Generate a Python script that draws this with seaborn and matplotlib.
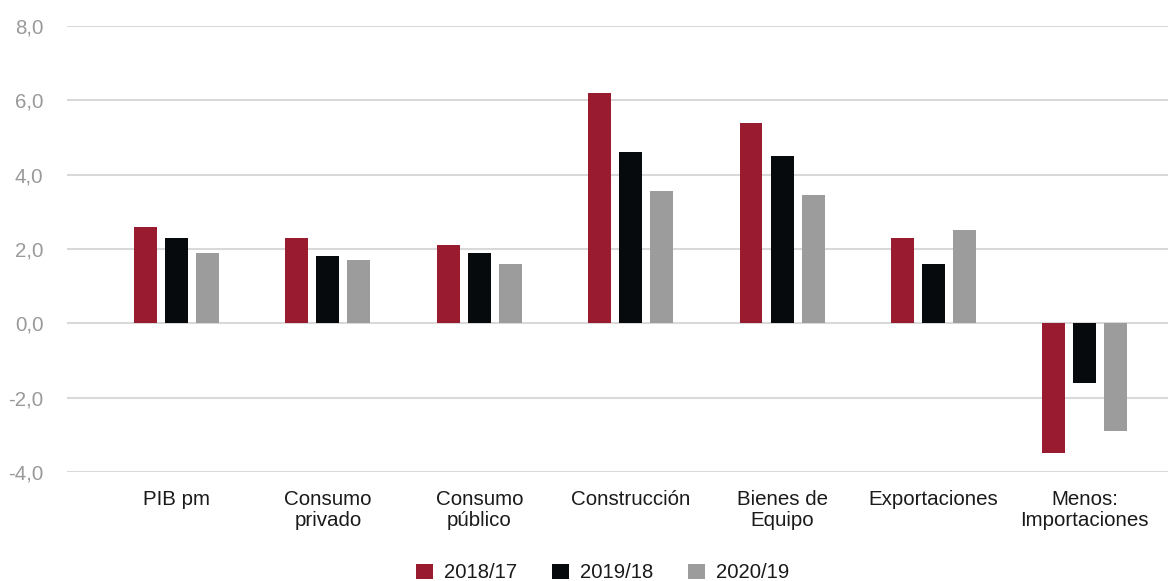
import matplotlib
matplotlib.use("Agg")
import matplotlib.pyplot as plt
from matplotlib.ticker import FuncFormatter, MultipleLocator
import seaborn as sns
import pandas as pd

# Componentes de la demanda y variación anual (%)
categories = ["PIB pm", "Consumo\nprivado", "Consumo\npúblico", "Construcción",
              "Bienes de\nEquipo", "Exportaciones", "Menos:\nImportaciones"]
periods = ["2018/17", "2019/18", "2020/19"]
values_2018_17 = [2.6, 2.3, 2.1, 6.2, 5.4, 2.3, -3.5]
values_2019_18 = [2.3, 1.8, 1.9, 4.6, 4.5, 1.6, -1.6]
values_2020_19 = [1.9, 1.7, 1.6, 3.55, 3.45, 2.5, -2.9]
colors = ["#991b30", "#060a0c", "#9c9c9c"]

df = pd.DataFrame({
    "categoria": categories * 3,
    "periodo": [p for p in periods for _ in categories],
    "valor": values_2018_17 + values_2019_18 + values_2020_19,
})

sns.set_theme(style="white")
plt.rcParams["font.family"] = ["Liberation Sans", "DejaVu Sans"]

fig = plt.figure(figsize=(11.68, 5.81), dpi=100)
ax = fig.add_axes([67 / 1168, 1 - 472 / 581, 1 - 67 / 1168, (472 - 26) / 581])

sns.barplot(data=df, x="categoria", y="valor", hue="periodo", order=categories,
            hue_order=periods, palette=colors, width=0.615, gap=0.26,
            saturation=1, linewidth=0, ax=ax, legend=True)

ax.set_ylim(-4, 8)
ax.set_xlim(-0.724, 6.55)
ax.yaxis.set_major_locator(MultipleLocator(2))
ax.yaxis.set_major_formatter(FuncFormatter(lambda v, _: f"{v:.1f}".replace(".", ",")))
ax.grid(axis="y", color="#d9d9d9", linewidth=1.5)
ax.set_axisbelow(True)
for s in ax.spines.values():
    s.set_visible(False)
ax.set_xlabel("")
ax.set_ylabel("")
ax.tick_params(axis="y", length=0, pad=17, labelsize=14.8, labelcolor="#9a9a9a")
ax.tick_params(axis="x", length=0, pad=13, labelsize=14.8, labelcolor="#1a1a1a")
for lbl in ax.get_xticklabels():
    lbl.set_linespacing(1.16)

handles, labels = ax.get_legend_handles_labels()
ax.get_legend().remove()
fig.legend(handles, labels, loc="lower center", bbox_to_anchor=(0.516, -0.006),
           ncol=3, frameon=False, fontsize=14.6, handlelength=0.8, handleheight=0.8,
           handletextpad=0.55, columnspacing=1.75, borderpad=0.1, borderaxespad=0,
           labelcolor="#1a1a1a")

fig.savefig("out.png", dpi=100)
